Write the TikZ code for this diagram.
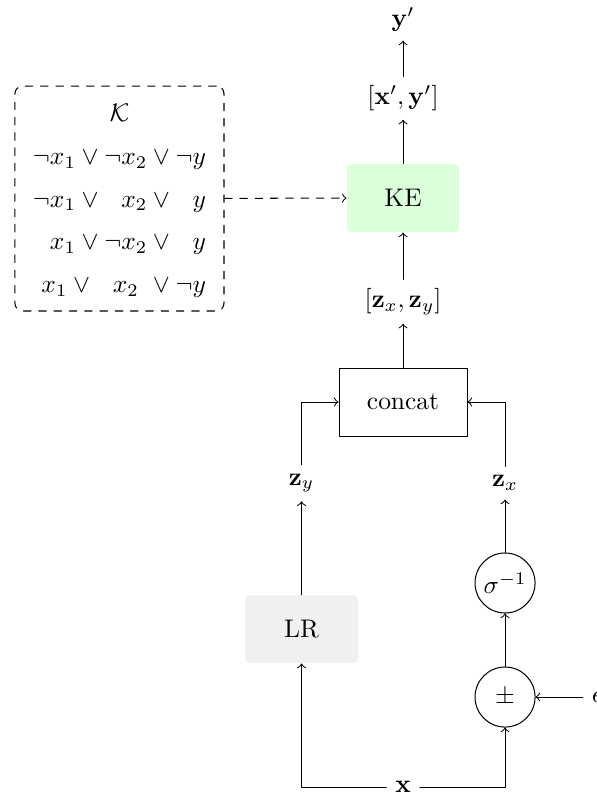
\documentclass[tikz,border=0pt]{standalone}
\usepackage{xcolor}
\usepackage{amssymb}
\usepackage{amsmath}
\usepackage{tikz}
\usetikzlibrary{calc}
\usetikzlibrary{arrows}
\definecolor{ddffdd}{rgb}{0.86,1.,0.86}
\definecolor{efefef}{rgb}{0.94,0.94,0.94}

\begin{document}
\begin{tikzpicture}[line cap=round,line join=round,>=to,x=1.0cm,y=1.0cm,
                    blok/.style={rounded corners=2pt,minimum height=0.938cm},
                    circ/.style={draw,circle,minimum size=0.828cm,inner sep=0pt}]
                    \clip[use as bounding box](0.,-10.979) rectangle (8.234,0.);
                    \node [blok,minimum width=1.545cm,fill=ddffdd] (ke) at (5.559,-2.731) {KE};
                    \node [draw,minimum width=1.766cm,minimum height=0.938cm] (concat) at (5.559,-5.545) {concat};
                    \node [blok,minimum width=1.559cm,fill=efefef] (lr) at (4.159,-8.676) {LR};
                    \node [circ] (sig) at (6.966,-8.041) {$\sigma^{-1}$};
                    \node [circ] (pm) at (6.966,-9.614) {$\pm$};
                    \node (x) at (5.559,-10.855) {$\mathbf{x}$};
                    \node (eps) at (8.234,-9.614) {$\epsilon$};
                    \node (zy) at (4.159,-6.662) {$\mathbf{z}_y$};
                    \node (zx) at (6.966,-6.662) {$\mathbf{z}_x$};
                    \node (zz) at (5.559,-4.159) {$[\mathbf{z}_x, \mathbf{z}_y]$};
                    \node (xy) at (5.559,-1.352) {$[\mathbf{x}', \mathbf{y}']$};
                    \node [anchor=south] (yp) at (5.559,-0.56) {$\mathbf{y}'$};
                    \node [draw,dashed,rounded corners=3pt,inner sep=0pt,minimum width=2.883cm,minimum height=3.103cm] (kb) at (1.648,-2.738)
                        {\setlength{\tabcolsep}{2pt}\renewcommand{\arraystretch}{1.4}\begin{tabular}{r}
                         \multicolumn{1}{c}{$\mathcal{K}$}\\
                         $\neg x_1 \lor \neg x_2 \lor \neg y$\\
                         $\neg x_1 \lor \phantom{\neg} x_2 \lor \phantom{\neg} y$\\
                         $x_1 \lor \neg x_2 \lor \phantom{\neg} y$\\
                         $x_1 \lor \phantom{\neg} x_2 \ \lor \neg y$
                         \end{tabular}};
                    \draw [->] (ke) -- (xy);
                    \draw [->] (xy) -- (yp);
                    \draw [->] (zz) -- (ke);
                    \draw [->] (concat) -- (zz);
                    \draw [->] (zy) |- (concat);
                    \draw [->] (zx) |- (concat);
                    \draw [->] (lr) -- (zy);
                    \draw [->] (x) -| (lr);
                    \draw [->] (x) -| (pm);
                    \draw [->] (pm) -- (sig);
                    \draw [->] (sig) -- (zx);
                    \draw [->] (eps) -- (pm);
                    \draw [->,dashed] (kb) -- (ke);
                    \end{tikzpicture}
\end{document}
